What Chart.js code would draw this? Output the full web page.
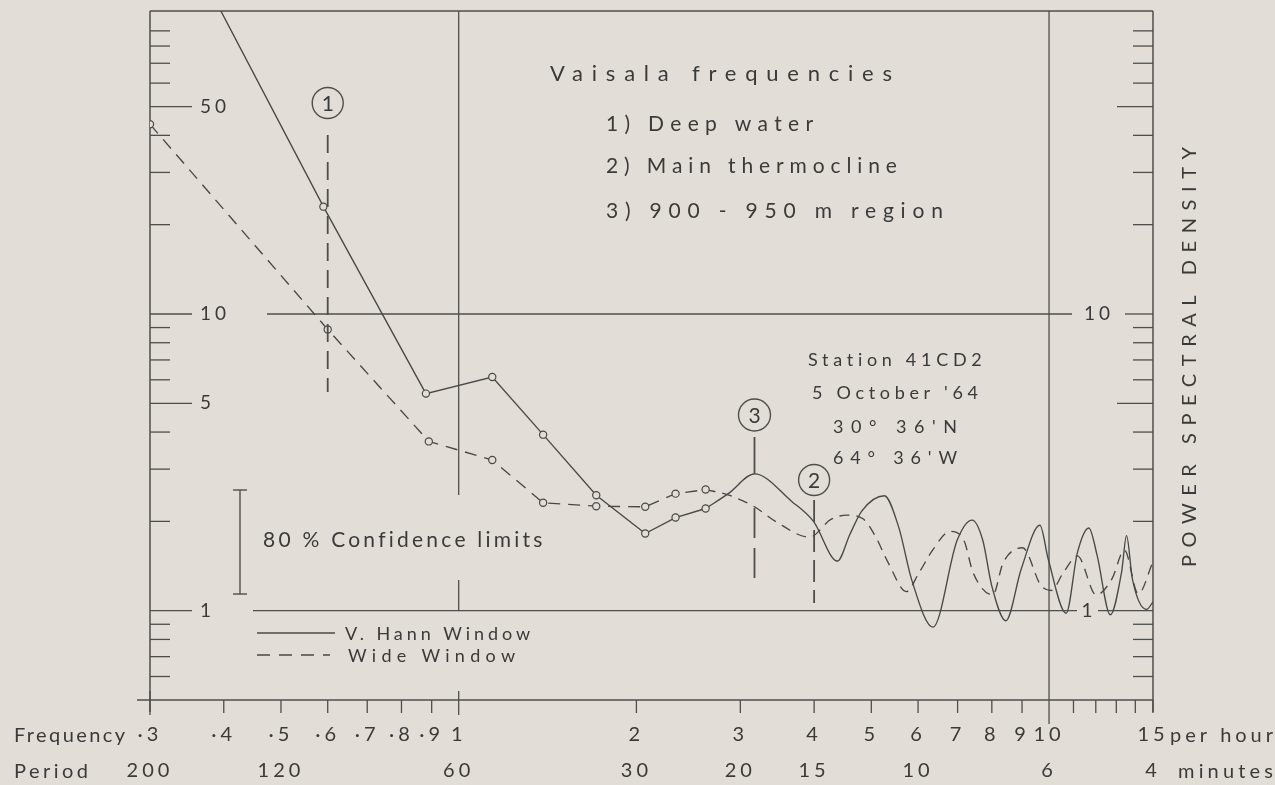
<!DOCTYPE html>
<html>
<head>
<meta charset="utf-8">
<script src="https://cdn.jsdelivr.net/npm/chart.js@4.4.1/dist/chart.umd.min.js"></script>
<style>
html,body{margin:0;padding:0;background:#e2ded7;overflow:hidden}
#wrap{width:1275px;height:785px}
</style>
</head>
<body>
<div id="wrap"><canvas id="c" width="1275" height="785"></canvas></div>
<script>
// ---------- axis ticks ----------
const freqTicks = [0.3,0.4,0.5,0.6,0.7,0.8,0.9,1,2,3,4,5,6,7,8,9,10,11,12,13,14,15];
const freqTickLabels = ['·3','·4','·5','·6','·7','·8','·9','1','2','3','4','5','6','7','8','9','10','','','','','15'];
const periodTickLabels = ['200','','120','','','','','60','30','20','15','','10','','','','6','','','','','4'];
const densityTicks = [0.6,0.7,0.8,0.9,1,2,3,4,5,6,7,8,9,10,20,30,40,50,60,70,80,90];
const leftDensityLabels = [1,5,10,50];
const rightDensityLabels = [1,10];

// ---------- spectra (frequency per hour, power spectral density) ----------
const hannFreq = [0.30,0.59,0.88,1.14,1.39,1.71,2.07,2.33,2.62,2.87,3.17,3.67,3.99,4.38,4.60,4.82,5.26,5.56,5.86,6.36,6.99,7.41,7.72,8.00,8.45,8.97,9.65,9.97,10.69,11.17,11.68,12.06,12.70,13.27,13.53,13.84,14.63,15.0];
const hannPSD  = [300,23.0,5.39,6.13,3.92,2.45,1.82,2.06,2.21,2.49,2.89,2.33,2.00,1.47,1.81,2.17,2.44,1.92,1.26,0.88,1.73,2.02,1.73,1.21,0.925,1.38,1.94,1.49,0.98,1.57,1.90,1.54,0.969,1.35,1.79,1.28,1.01,1.07];
const wideFreq = [0.30,0.60,0.89,1.14,1.39,1.71,2.07,2.33,2.62,2.87,3.17,3.44,3.93,4.27,4.55,4.84,5.08,5.35,5.73,6.02,6.35,6.80,7.17,7.44,8.03,8.36,9.02,9.68,10.08,10.59,11.17,12.02,12.78,13.42,14.16,15.0];
const widePSD  = [43.6,8.87,3.72,3.22,2.31,2.25,2.24,2.48,2.56,2.45,2.24,2.00,1.77,2.03,2.10,2.04,1.78,1.44,1.16,1.34,1.60,1.85,1.73,1.34,1.13,1.45,1.63,1.22,1.17,1.35,1.53,1.13,1.28,1.60,1.14,1.46];
const circledPoints = 9;   // first estimates are marked with circles

// ---------- annotations ----------
const vaisalaFreq = [0.6, 4.0, 3.17];
const vaisalaNumbers = ['1','2','3'];
const vaisalaLines = ['Vaisala frequencies','1) Deep water','2) Main thermocline','3) 900 - 950 m region'];
const stationLines = ['Station 41CD2', "5 October '64", "30° 36'N", "64° 36'W"];
const seriesNames = ['V. Hann Window', 'Wide Window'];

const paper = '#e2ded7', ink = '#3a3a3a', frameInk = '#4e4e4e', curveInk = '#484848';
const FONT = 'Lato, "Open Sans", "DejaVu Sans", sans-serif';
const hasLS = (() => { const c = document.createElement('canvas').getContext('2d'); return 'letterSpacing' in c; })();

function pts(fx, fy, a, b) { return fx.slice(a, b).map((f, i) => ({x: f, y: fy[a + i]})); }

function seg(ctx, x1, y1, x2, y2) { ctx.beginPath(); ctx.moveTo(x1, y1); ctx.lineTo(x2, y2); ctx.stroke(); }

function spaced(ctx, text, x0, width, y, size) {
  ctx.save();
  ctx.font = size + 'px ' + FONT;
  ctx.textAlign = 'left';
  ctx.textBaseline = 'middle';
  ctx.fillStyle = ink;
  if (hasLS) ctx.letterSpacing = '0px';
  const w = ctx.measureText(text).width;
  if (hasLS && text.length > 1) {
    const sp = Math.max(-0.5, (width - w) / (text.length - 1));
    ctx.letterSpacing = sp.toFixed(2) + 'px';
  }
  ctx.fillText(text, x0, y);
  ctx.restore();
}
function plain(ctx, text, x, y, size, align, spacing) {
  ctx.save();
  ctx.font = size + 'px ' + FONT;
  ctx.textAlign = align;
  ctx.textBaseline = 'middle';
  ctx.fillStyle = ink;
  if (hasLS) ctx.letterSpacing = (spacing || 0) + 'px';
  ctx.fillText(text, x, y);
  ctx.restore();
}

const deco = {
  id: 'deco',
  beforeDraw(chart) {
    const ctx = chart.ctx;
    ctx.save(); ctx.fillStyle = paper; ctx.fillRect(0, 0, chart.width, chart.height); ctx.restore();
    if (hasLS) ctx.letterSpacing = '4px';
  },
  beforeDatasetsDraw(chart) {
    const ctx = chart.ctx, a = chart.chartArea;
    const X = v => chart.scales.x.getPixelForValue(v), Y = v => chart.scales.y.getPixelForValue(v);
    ctx.save();
    if (hasLS) ctx.letterSpacing = '0px';
    ctx.strokeStyle = frameInk;
    ctx.lineWidth = 1.5;
    seg(ctx, a.left, a.top, a.right, a.top);
    seg(ctx, a.left, a.top, a.left, a.bottom + 12);
    seg(ctx, a.right, a.top, a.right, a.bottom + 12);
    seg(ctx, a.left - 13, a.bottom, a.right, a.bottom);
    ctx.lineWidth = 1.3;
    freqTicks.forEach(v => {
      const x = X(v);
      if (v === 10) { seg(ctx, x, a.top, x, a.bottom + 24); return; }
      const major = v === 0.3 || v === 1;
      seg(ctx, x, major ? a.bottom - 9 : a.bottom, x, a.bottom + (major ? 15 : 13));
    });
    densityTicks.forEach(v => {
      const y = Y(v);
      seg(ctx, a.left, y, a.left + (leftDensityLabels.includes(v) ? 42 : 20), y);
      if (rightDensityLabels.includes(v)) return;
      const long = v === 5 || v === 50;
      seg(ctx, a.right - (long ? 36 : 20), y, a.right, y);
    });
    // reference lines at density 10 and 1
    seg(ctx, a.left + 117, Y(10), a.right - 81, Y(10));
    seg(ctx, a.right - 28, Y(10), a.right, Y(10));
    seg(ctx, a.left + 103, Y(1), a.right - 76, Y(1));
    seg(ctx, a.right - 55, Y(1), a.right, Y(1));
    // broken vertical at frequency 1
    seg(ctx, X(1), a.top, X(1), 495);
    seg(ctx, X(1), 580, X(1), Y(1));
    ctx.restore();

    // density labels
    leftDensityLabels.forEach(v => plain(ctx, String(v), a.left + 50, Y(v), 19, 'left', 4));
    plain(ctx, '10', a.right - 54, Y(10), 19, 'center', 4);
    plain(ctx, '1', a.right - 66, Y(1), 19, 'center', 0);
  },
  afterDatasetsDraw(chart) {
    const ctx = chart.ctx, a = chart.chartArea;
    const X = v => chart.scales.x.getPixelForValue(v), Y = v => chart.scales.y.getPixelForValue(v);
    ctx.save();
    if (hasLS) ctx.letterSpacing = '0px';
    ctx.strokeStyle = frameInk;

    // Vaisala frequency markers
    const mk = [
      {cy: 103, r: 15.5, from: 135, to: 392, dash: [18, 9]},
      {cy: 480, r: 15.5, from: 500, to: 603, dash: [22, 8]},
      {cy: 415, r: 16,   from: 437, to: 578, dash: [37, 34, 30, 10, 30, 200]}
    ];
    vaisalaFreq.forEach((f, i) => {
      const x = X(f), m = mk[i];
      ctx.lineWidth = 1.4;
      ctx.setLineDash([]);
      ctx.beginPath(); ctx.arc(x, m.cy, m.r, 0, Math.PI * 2); ctx.stroke();
      plain(ctx, vaisalaNumbers[i], x, m.cy + 1, 21, 'center', 0);
      ctx.lineWidth = 1.8;
      ctx.setLineDash(m.dash);
      seg(ctx, x, m.from, x, m.to);
    });
    ctx.setLineDash([]);

    // confidence bar
    ctx.lineWidth = 1.4;
    const cx = a.left + 90;
    seg(ctx, cx, 490, cx, 594);
    seg(ctx, cx - 7, 490, cx + 7, 490);
    seg(ctx, cx - 7, 594, cx + 7, 594);

    // legend samples
    ctx.lineWidth = 1.3;
    ctx.strokeStyle = curveInk;
    seg(ctx, a.left + 107, 633, a.left + 185, 633);
    ctx.setLineDash([13, 9]);
    seg(ctx, a.left + 107, 655, a.left + 180, 655);
    ctx.setLineDash([]);
    ctx.restore();

    spaced(ctx, seriesNames[0], a.left + 195, 185, 634, 18);
    spaced(ctx, seriesNames[1], a.left + 198, 167, 656, 18);
    spaced(ctx, '80 % Confidence limits', a.left + 113, 279, 540, 21);

    // Vaisala block
    spaced(ctx, vaisalaLines[0], 550, 342, 74, 22);
    spaced(ctx, vaisalaLines[1], 606, 207, 124, 21);
    spaced(ctx, vaisalaLines[2], 606, 291, 166, 21);
    spaced(ctx, vaisalaLines[3], 606, 337, 211, 21);

    // station block (centred)
    const sw = [174, 166, 124, 124], sy = [360, 393, 427, 458];
    stationLines.forEach((t, i) => spaced(ctx, t, 895 - sw[i] / 2, sw[i], sy[i], 18));

    // axis captions
    spaced(ctx, 'Frequency', 14, 111, 736, 20);
    spaced(ctx, 'Period', 14, 74, 772, 20);
    spaced(ctx, 'per hour', 1170, 103, 736, 20);
    spaced(ctx, 'minutes', 1178, 95, 772, 20);

    // right-hand title
    ctx.save();
    ctx.translate(1190, 357);
    ctx.rotate(-Math.PI / 2);
    spaced(ctx, 'POWER SPECTRAL DENSITY', -210, 420, 0, 20);
    ctx.restore();
  },
  afterDraw(chart) { if (hasLS) chart.ctx.letterSpacing = '0px'; }
};

const lineBase = {borderColor: curveInk, borderWidth: 1.35, pointBorderColor: curveInk,
  pointBackgroundColor: paper, pointBorderWidth: 1.2, pointHoverRadius: 0};

new Chart(document.getElementById('c'), {
  type: 'line',
  data: {
    datasets: [
      Object.assign({label: seriesNames[0], data: pts(hannFreq, hannPSD, 0, circledPoints),
        tension: 0, pointRadius: 3.6, clip: 0}, lineBase),
      Object.assign({label: seriesNames[0], data: pts(hannFreq, hannPSD, circledPoints - 1, hannFreq.length),
        cubicInterpolationMode: 'monotone', pointRadius: 0, clip: 0}, lineBase),
      Object.assign({label: seriesNames[1], data: pts(wideFreq, widePSD, 0, circledPoints),
        tension: 0, pointRadius: 3.6, borderDash: [12, 8]}, lineBase),
      Object.assign({label: seriesNames[1], data: pts(wideFreq, widePSD, circledPoints - 1, wideFreq.length),
        cubicInterpolationMode: 'monotone', pointRadius: 0, borderDash: [10, 7], clip: 0}, lineBase)
    ]
  },
  options: {
    responsive: false,
    animation: false,
    parsing: true,
    layout: {padding: {left: 150, right: 122, top: 11, bottom: 0}},
    elements: {line: {capBezierPoints: false}},
    plugins: {legend: {display: false}, tooltip: {enabled: false}},
    scales: {
      x: {
        type: 'logarithmic', min: 0.3, max: 15, bounds: 'data', position: 'bottom',
        grid: {display: false, drawTicks: false}, border: {display: false},
        afterBuildTicks: s => { s.ticks = freqTicks.map(v => ({value: v})); },
        afterFit: s => { s.height = 85; },
        ticks: {
          autoSkip: false, maxRotation: 0, minRotation: 0, padding: 17, color: ink,
          font: {family: FONT, size: 20, lineHeight: 1.8},
          callback: (v, i) => [freqTickLabels[i], periodTickLabels[i]]
        }
      },
      y: {type: 'logarithmic', min: 0.5, max: 105, display: false}
    }
  },
  plugins: [deco]
});
</script>
</body>
</html>
